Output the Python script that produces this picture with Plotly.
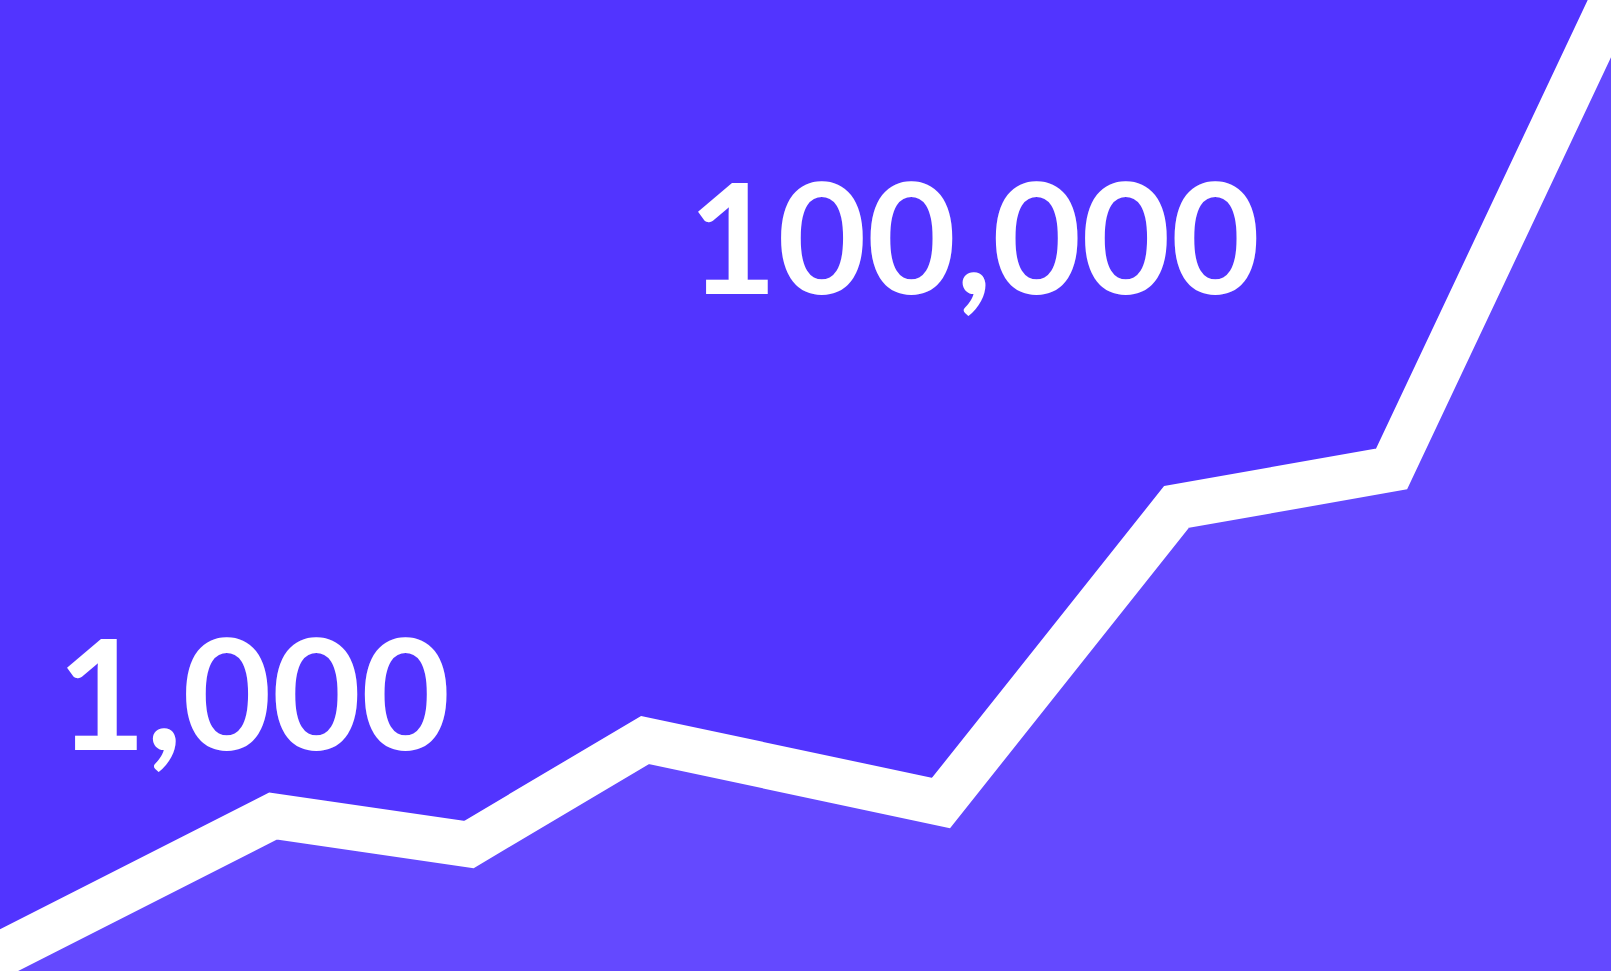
import plotly.graph_objects as go

# Growth curve (arbitrary units, 0-100 on both axes)
period = [-2.48, 16.95, 29.11, 40.04, 58.41, 73.03, 86.38, 101.58]
growth = [-0.41, 15.96, 13.03, 23.79, 17.30, 47.79, 51.70, 105.15]

labels = ["1,000", "100,000"]
label_x = [0.1573, 0.6049]   # paper fraction, horizontal centre of text
label_y = [0.2885, 0.7590]   # paper fraction, vertical centre of digits

DARK = "#5234FF"
LIGHT = "#6449FF"

fig = go.Figure()
fig.add_trace(go.Scatter(
    x=period, y=growth, mode="lines",
    fill="tozeroy", fillcolor=LIGHT,
    line=dict(color="white", width=45.5, shape="linear", simplify=False),
    hoverinfo="skip", showlegend=False,
))

for t, lx, ly in zip(labels, label_x, label_y):
    fig.add_annotation(
        text=t, x=lx, y=ly, xref="paper", yref="paper",
        xanchor="center", yanchor="middle", showarrow=False,
        font=dict(family="Lato", size=154, color="white", weight="bold"),
    )

fig.update_layout(
    width=1611, height=971,
    margin=dict(l=0, r=0, t=0, b=0),
    paper_bgcolor=DARK, plot_bgcolor=DARK,
    xaxis=dict(range=[0, 100], visible=False, fixedrange=True),
    yaxis=dict(range=[0, 100], visible=False, fixedrange=True),
)

fig.write_html("out.html")
